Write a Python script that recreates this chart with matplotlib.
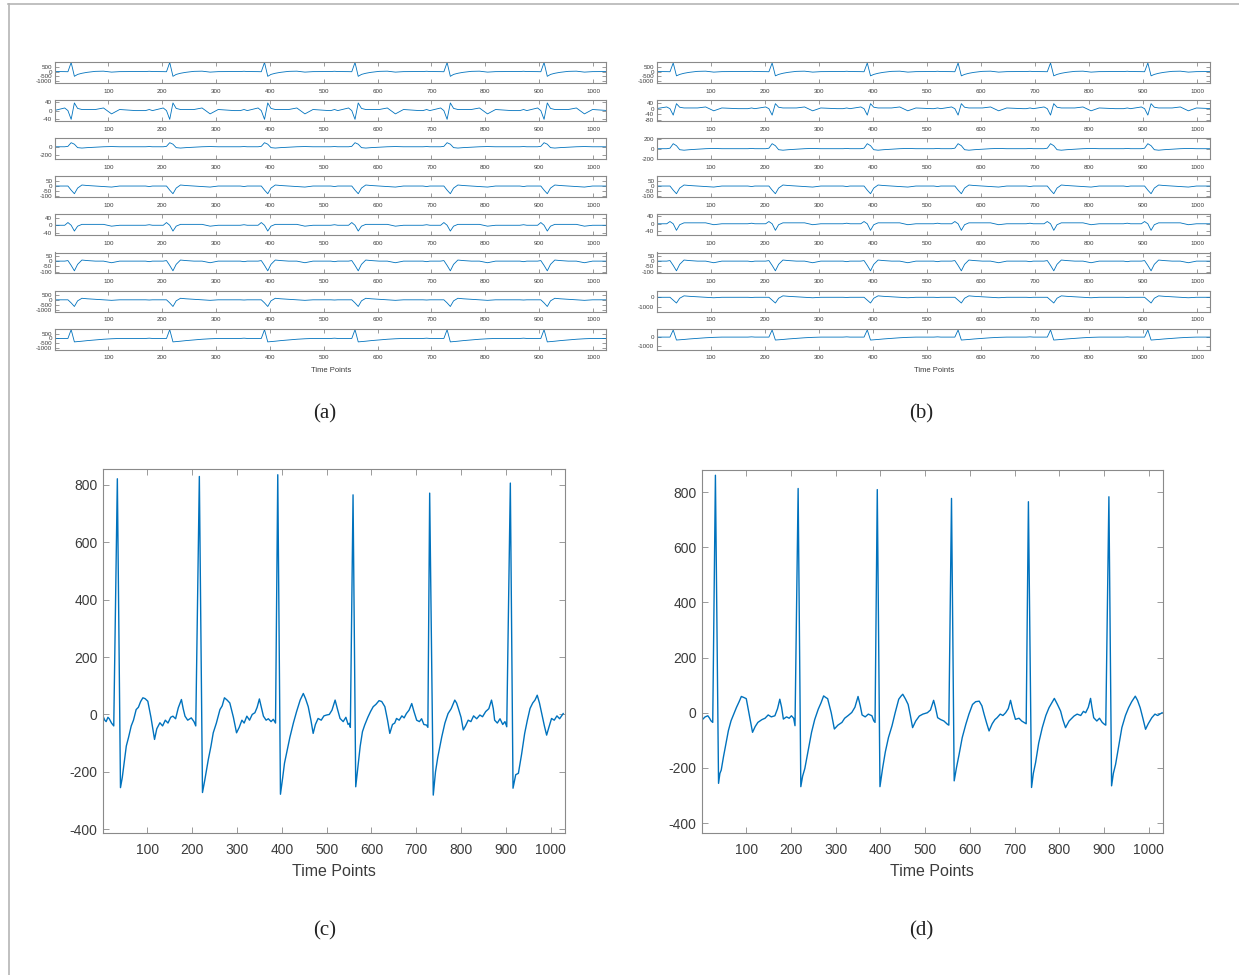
import matplotlib.pyplot as plt
from matplotlib.lines import Line2D

plt.rcParams['axes.unicode_minus'] = False

# ---- data ----
# panel (c): one channel, full view
c_x = [1, 5, 8, 12, 15, 20, 25,
       33, 40, 44, 48, 53, 58, 64, 69, 75, 80, 85, 90, 95, 101, 108, 116, 121, 128, 134, 140, 146,
       152, 157, 163, 169, 176, 180, 184, 190, 198, 204, 208,
       216, 223, 228, 236, 242, 247, 254, 262, 267, 272, 278, 284, 292, 299, 305, 311, 316, 322,
       328, 334, 340, 345, 350, 355, 359, 365, 370, 376, 381, 386,
       391, 397, 402, 406, 411, 418, 426, 433, 441, 448, 453, 459, 465, 470, 475, 481, 488, 494,
       500, 506, 512, 519, 524, 530, 537, 543, 548, 551, 553,
       559, 565, 570, 575, 580, 585, 592, 598, 604, 610, 617, 623, 630, 636, 641, 647, 652, 656,
       662, 668, 673, 678, 684, 690, 695, 701, 707, 712, 717, 723, 726,
       730, 738, 743, 748, 753, 757, 764, 771, 778, 786, 790, 794, 800, 805, 810, 816, 822, 828,
       835, 842, 848, 855, 862, 868, 872, 875, 881, 887, 893, 898, 902,
       910, 916, 922, 928, 935, 942, 948, 954, 960, 965, 970, 975, 980, 986, 991, 996, 1002,
       1008, 1014, 1020, 1028]
c_y = [-6, -20, -25, -10, -15, -30, -40,
       821, -255, -220, -170, -110, -80, -40, -20, 17, 25, 45, 58, 55, 46, -10, -87, -50, -29, -40, -20, -30,
       -10, -6, -15, 23, 52, 20, -6, -20, -12, -25, -40,
       829, -272, -230, -157, -110, -64, -30, 17, 30, 58, 50, 40, -10, -64, -45, -20, -30, -6,
       -20, 0, 6, 25, 54, 20, -6, -20, -15, -25, -17, -30,
       835, -278, -220, -170, -133, -80, -29, 10, 50, 73, 55, 27, -20, -66, -35, -14, -20, -5,
       -2, 0, 15, 50, 20, -14, -25, -10, -35, -31, -45,
       765, -252, -180, -110, -60, -37, -10, 10, 27, 35, 48, 45, 27, -20, -66, -35, -30, -14,
       -20, -5, -12, 3, 15, 38, 10, -20, -25, -15, -35, -37, -45,
       771, -281, -200, -150, -110, -78, -30, 3, 20, 50, 40, 21, -10, -54, -40, -20, -25, -5,
       -15, -2, -8, 10, 20, 50, 20, -20, -30, -15, -35, -25, -43,
       806, -257, -210, -205, -140, -66, -20, 21, 40, 50, 67, 40, 3, -40, -72, -45, -14,
       -20, -5, -15, 3]

# panel (d): reconstructed channel
d_x = [3, 8, 14, 18, 21, 25,
       31, 38, 41, 44, 49, 55, 60, 66, 72, 78, 84, 89, 95, 100, 107, 114, 120, 126, 135, 142, 149,
       156, 164, 170, 175, 179, 183, 190, 196, 201, 206, 209,
       216, 222, 226, 231, 238, 246, 253, 261, 267, 273, 278, 282, 290, 297, 305, 314, 320, 328,
       336, 343, 350, 355, 359, 366, 373, 381, 385, 388,
       393, 399, 405, 411, 418, 426, 433, 441, 446, 450, 456, 462, 467, 472, 479, 487, 495, 505,
       512, 519, 523, 528, 535, 542, 550, 553,
       559, 565, 570, 576, 583, 591, 598, 606, 613, 621, 627, 632, 638, 643, 650, 656, 661, 668,
       674, 680, 686, 691, 696, 702, 710, 716, 722, 726,
       731, 738, 742, 747, 754, 762, 770, 777, 783, 789, 796, 803, 808, 814, 822, 833, 840, 848,
       854, 859, 865, 870, 873, 877, 884, 890, 896, 901, 904,
       911, 917, 921, 926, 933, 940, 948, 955, 962, 970, 975, 981, 987, 993, 999, 1007, 1014,
       1020, 1030]
d_y = [-23, -15, -11, -20, -29, -35,
       861, -256, -220, -208, -160, -107, -65, -29, -5, 19, 40, 59, 55, 51, -10, -71, -50, -35, -25, -20, -8,
       -15, -11, 15, 49, 20, -23, -15, -20, -11, -20, -47,
       813, -268, -230, -202, -140, -71, -25, 13, 35, 61, 55, 51, 0, -59, -45, -35, -20, -10,
       1, 20, 59, 25, -8, -15, -5, -11, -29, -35,
       809, -268, -200, -142, -90, -47, 0, 49, 60, 67, 50, 30, -10, -54, -30, -12, -5, 0,
       10, 45, 20, -18, -25, -30, -42, -45,
       777, -247, -200, -151, -90, -42, -5, 30, 40, 42, 25, -6, -40, -66, -40, -25, -18, -5,
       -10, 0, 15, 45, 10, -24, -20, -30, -36, -40,
       765, -271, -220, -181, -110, -54, -10, 18, 35, 52, 30, 6, -25, -54, -30, -12, -5, -10,
       5, 0, 20, 52, 20, -18, -30, -20, -35, -42, -45,
       783, -265, -220, -187, -120, -54, -10, 18, 40, 60, 45, 18, -20, -60, -40, -18, -5,
       -10, 0]

# panels (a) and (b): 8 channels each, one beat shape per channel at the R positions
r_peaks = [31, 214, 390, 558, 729, 909]
beat_offsets = [-45, -38, -32, -12, -6, 0, 6, 12, 20, 30, 45, 60, 75, 90, 120]

a_shapes = [
    [0, 30, 0, -10, -20, 950, -500, -300, -180, -80, 20, 40, -60, -10, 0],
    [0, 5, 0, 12, 0, -40, 35, 10, 5, 5, 5, 12, -15, 5, 0],
    [0, 5, 0, 0, 10, 95, 60, -20, -30, -20, -10, 0, 5, 0, 0],
    [0, -5, 0, 0, 0, -40, -75, -20, 10, 5, 0, -5, -10, 0, 0],
    [0, 3, 0, 0, 15, 0, -32, -5, 5, 5, 5, 5, -5, 0, 0],
    [0, -5, 0, 0, 5, -40, -90, -30, 10, 5, 0, 0, -15, 0, 0],
    [0, -20, 0, 0, 0, -300, -650, -100, 150, 100, 50, 0, -50, 0, 0],
    [0, 30, 0, 0, 0, 900, -350, -320, -280, -220, -150, -80, -30, 0, 0],
]
b_shapes = [
    [0, 30, 0, -10, -20, 900, -450, -300, -180, -80, 20, 40, -60, -10, 0],
    [0, 5, 0, 12, 0, -45, 35, 10, 5, 5, 5, 12, -15, 5, 0],
    [0, 5, 0, 0, 10, 100, 60, -20, -30, -20, -10, 0, 5, 0, 0],
    [0, -5, 0, 0, 0, -40, -75, -20, 10, 5, 0, -5, -10, 0, 0],
    [0, 3, 0, 0, 12, 0, -35, -5, 5, 5, 5, 5, -5, 0, 0],
    [0, -5, 0, 0, 5, -40, -90, -30, 10, 5, 0, 0, -15, 0, 0],
    [0, -20, 0, 0, 0, -300, -600, -100, 150, 100, 50, 0, -50, 0, 0],
    [0, 30, 0, 0, 0, 850, -350, -320, -280, -220, -150, -80, -30, 0, 0],
]
a_ylims = [(-1200, 1000), (-48, 48), (-290, 200), (-110, 95), (-56, 60), (-115, 80), (-1150, 900), (-1150, 1000)]
a_yticks = [[-1000, -500, 0, 500], [-40, 0, 40], [-200, 0], [-100, -50, 0, 50],
            [-40, 0, 40], [-100, -50, 0, 50], [-1000, -500, 0, 500], [-1000, -500, 0, 500]]
b_ylims = [(-1200, 1000), (-87, 60), (-210, 210), (-110, 95), (-62, 50), (-115, 80), (-1500, 700), (-1500, 1000)]
b_yticks = [[-1000, -500, 0, 500], [-80, -40, 0, 40], [-200, 0, 200], [-100, -50, 0, 50],
            [-40, 0, 40], [-100, -50, 0, 50], [-1000, 0], [-1000, 0]]

x_ticks = [100, 200, 300, 400, 500, 600, 700, 800, 900, 1000]
big_yticks = [-400, -200, 0, 200, 400, 600, 800]

BLUE = '#0072BD'
SPINE = '#8a8a8a'
TXT = '#3c3c3c'
W, H = 1239, 975

fig = plt.figure(figsize=(W / 100, H / 100), dpi=100)


def px_axes(left, top, right, bottom):
    return fig.add_axes([left / W, 1 - bottom / H, (right - left) / W, (bottom - top) / H])


def style(ax, size, length, xpad, ypad):
    for s in ax.spines.values():
        s.set_color(SPINE)
        s.set_linewidth(0.8)
    ax.tick_params(direction='in', top=True, right=True, length=length, width=0.6,
                   color=SPINE, labelcolor=TXT, labelsize=size)
    ax.tick_params(axis='x', pad=xpad)
    ax.tick_params(axis='y', pad=ypad)
    for lab in ax.get_xticklabels() + ax.get_yticklabels():
        lab.set_family('Liberation Sans')


def beat_series(shape):
    xs, ys = [], []
    for r in r_peaks:
        for o, v in zip(beat_offsets, shape):
            xs.append(r + o)
            ys.append(v)
    xs.append(1030)
    ys.append(0)
    return xs, ys


# ---- (a) and (b): stacked channels ----
for left, right, shapes, ylims, yticks, lab_x in [
        (55, 606, a_shapes, a_ylims, a_yticks, 331),
        (657, 1210, b_shapes, b_ylims, b_yticks, 934)]:
    for i in range(8):
        top = 62 + 38.1 * i
        ax = px_axes(left, top, right, top + 21)
        xs, ys = beat_series(shapes[i])
        ax.plot(xs, ys, color=BLUE, lw=0.6)
        ax.set_xlim(1, 1024)
        ax.set_ylim(*ylims[i])
        ax.set_xticks(x_ticks)
        ax.set_yticks(yticks[i])
        style(ax, 4.5, 3, 4, 2)
    fig.text(lab_x / W, 1 - 370 / H, 'Time Points', ha='center', va='center',
             fontsize=5.5, color=TXT, family='Liberation Sans')

# ---- (c) and (d): single channel ----
for (left, top, right, bottom), xs, ys, ylim, lab_x in [
        ((103, 469, 565, 833), c_x, c_y, (-413, 855), 334),
        ((702, 470, 1163, 833), d_x, d_y, (-436, 880), 932)]:
    ax = px_axes(left, top, right, bottom)
    ax.plot(xs, ys, color=BLUE, lw=1.0)
    ax.set_xlim(1, 1032)
    ax.set_ylim(*ylim)
    ax.set_xticks(x_ticks)
    ax.set_yticks(big_yticks)
    style(ax, 10, 4, 7, 4)
    fig.text(lab_x / W, 1 - 871 / H, 'Time Points', ha='center', va='center',
             fontsize=11.5, color=TXT, family='Liberation Sans')

# panel captions
for txt, x, y in [('(a)', 325, 414), ('(b)', 921, 414), ('(c)', 325, 931), ('(d)', 921, 931)]:
    fig.text(x / W, 1 - y / H, txt, ha='center', va='center', fontsize=15,
             color='#222222', family='Liberation Serif')

# thin frame on the top and left edge
fig.add_artist(Line2D([8 / W, 1], [1 - 4 / H, 1 - 4 / H], color='#b5b5b5', lw=1.2))
fig.add_artist(Line2D([8.5 / W, 8.5 / W], [0, 1 - 4 / H], color='#b5b5b5', lw=1.2))

fig.savefig('out.png', dpi=100)
